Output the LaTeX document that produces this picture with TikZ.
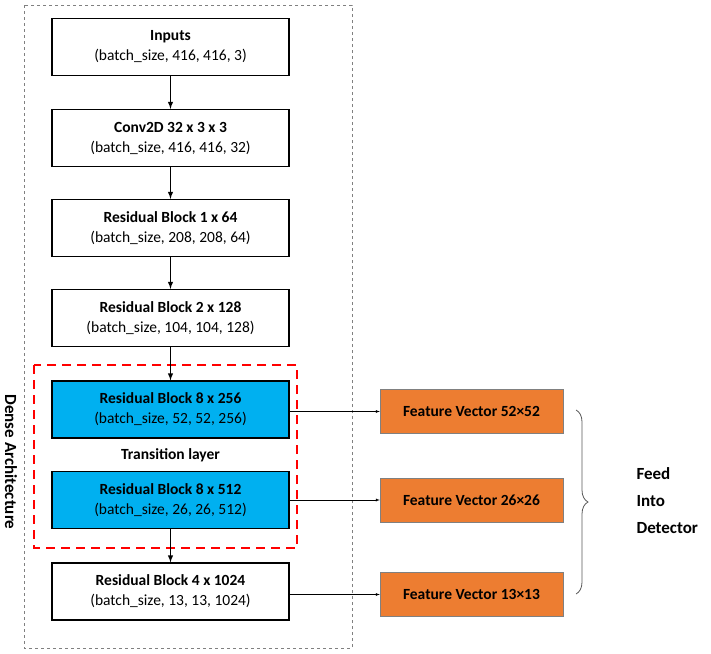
\documentclass[tikz,border=0pt]{standalone}
\usepackage{fontspec}
\setmainfont{Carlito}
\usetikzlibrary{positioning,decorations.pathreplacing}
\definecolor{layerblue}{RGB}{0,176,240}
\definecolor{featorange}{RGB}{237,125,49}
\begin{document}
\begin{tikzpicture}[x=1pt,y=-1pt,>=latex]
    \tikzset{
      block/.style={draw,line width=1.2pt,minimum width=237pt,minimum height=57pt,
        align=center,font=\fontsize{15.5}{20}\selectfont},
      feat/.style={draw=gray,fill=featorange,minimum width=183pt,minimum height=44pt,
        font=\fontsize{15.5}{18}\selectfont\bfseries},
      flow/.style={->,line width=1.4pt},
      tap/.style={->,thin}
    }
    \useasboundingbox (0,0) rectangle (711,653);

    \draw[gray,dashed,line width=1pt] (24,5) rectangle (352,648);
    \draw[red,dashed,line width=2pt,dash pattern=on 9pt off 6pt] (34,365) rectangle (297,548);
    \node[rotate=-90,font=\fontsize{17}{20}\selectfont\bfseries] (dense) at (11,462) {Dense Architecture};

    \node[block] (inp) at (170.5,47) {\textbf{Inputs}\\(batch\_size, 416, 416, 3)};
    \node[block] (conv) at (170.5,138) {\textbf{Conv2D 32 x 3 x 3}\\(batch\_size, 416, 416, 32)};
    \node[block] (rb1) at (170.5,228) {\textbf{Residual Block 1 x 64}\\(batch\_size, 208, 208, 64)};
    \node[block] (rb2) at (170.5,318) {\textbf{Residual Block 2 x 128}\\(batch\_size, 104, 104, 128)};
    \node[block,fill=layerblue] (rb8a) at (170.5,409.5) {\textbf{Residual Block 8 x 256}\\(batch\_size, 52, 52, 256)};
    \node[font=\fontsize{15.5}{18}\selectfont\bfseries] (trans) at (170.5,455) {Transition layer};
    \node[block,fill=layerblue] (rb8b) at (170.5,500) {\textbf{Residual Block 8 x 512}\\(batch\_size, 26, 26, 512)};
    \node[block] (rb4) at (170.5,591.5) {\textbf{Residual Block 4 x 1024}\\(batch\_size, 13, 13, 1024)};

    \node[feat] (f52) at (471.5,411.5) {Feature Vector 52×52};
    \node[feat] (f26) at (471.5,500) {Feature Vector 26×26};
    \node[feat] (f13) at (471.5,594.5) {Feature Vector 13×13};

    \draw[flow] (inp) -- (conv);
    \draw[flow] (conv) -- (rb1);
    \draw[flow] (rb1) -- (rb2);
    \draw[flow] (rb2) -- (rb8a);
    \draw[flow] (rb8b) -- (rb4);

    \draw[tap] (rb8a.east |- f52) -- (f52);
    \draw[tap] (rb8b.east |- f26) -- (f26);
    \draw[tap] (rb4.east |- f13) -- (f13);

    % brace towards the detector
    \draw[gray!70!black,thick,decoration={brace,amplitude=12pt},decorate]
      (576,410) -- (576,594);
    \node[align=left,anchor=west,font=\fontsize{17}{27}\selectfont\bfseries] (det) at (633,501)
      {Feed\\Into\\Detector};
\end{tikzpicture}
\end{document}
